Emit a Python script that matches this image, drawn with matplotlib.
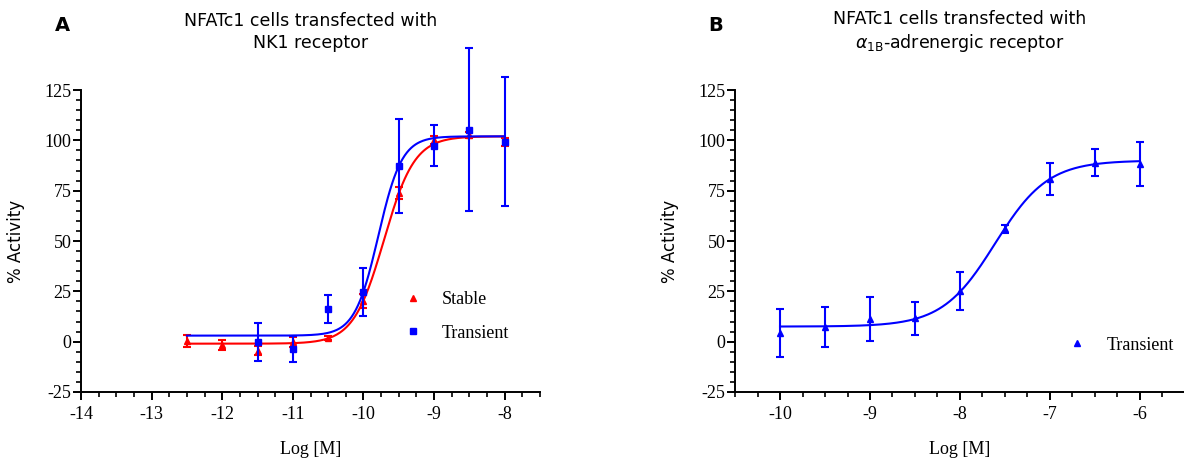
import matplotlib
matplotlib.use("Agg")
import matplotlib.pyplot as plt
import numpy as np
from matplotlib.lines import Line2D
from matplotlib.ticker import MultipleLocator

# panel A - NK1 receptor
log_a = [-12.5, -12.0, -11.5, -11.0, -10.5, -10.0, -9.5, -9.0, -8.5, -8.0]
stable_mean = [0.5, -1.5, -4.4, 0.0, 1.6, 20.0, 74.0, 100.0, 102.5, 99.0]
stable_err = [3.0, 2.5, 2.0, 2.5, 1.0, 3.5, 3.0, 2.0, 1.5, 2.0]
log_a_tr = [-11.5, -11.0, -10.5, -10.0, -9.5, -9.0, -8.5, -8.0]
trans_a_mean = [-0.3, -3.6, 16.4, 24.8, 87.2, 97.4, 105.3, 99.3]
trans_a_err = [9.5, 6.5, 7.0, 12.0, 23.3, 10.3, 40.5, 32.0]
# fitted 4PL parameters (bottom, top, logEC50, hill)
fit_stable = (-1.0, 102.0, -9.71, 2.0)
fit_trans_a = (3.0, 102.0, -9.79, 2.6)

# panel B - alpha1B adrenergic receptor
log_b = [-10.0, -9.5, -9.0, -8.5, -8.0, -7.5, -7.0, -6.5, -6.0]
trans_b_mean = [4.3, 7.3, 11.2, 11.6, 25.0, 56.0, 80.9, 89.0, 88.3]
trans_b_err = [12.1, 10.0, 11.0, 8.2, 9.4, 2.0, 8.0, 6.5, 11.0]
fit_trans_b = (7.5, 90.0, -7.61, 1.48)

yticks = [-25, 0, 25, 50, 75, 100, 125]


def four_pl(x, p):
    bottom, top, ec50, hill = p
    return bottom + (top - bottom) / (1 + 10 ** ((ec50 - x) * hill))


def style_axes(ax, xlim, xticks):
    ax.set_xlim(*xlim)
    ax.set_ylim(-25, 125)
    ax.set_xticks(xticks)
    ax.set_xticklabels([str(t) for t in xticks], family="Liberation Serif")
    ax.xaxis.set_minor_locator(MultipleLocator(0.25))
    ax.set_yticks(yticks)
    ax.set_yticklabels([str(t) for t in yticks], family="Liberation Serif")
    ax.yaxis.set_minor_locator(MultipleLocator(5))
    for s in ["top", "right"]:
        ax.spines[s].set_visible(False)
    for s in ["left", "bottom"]:
        ax.spines[s].set_linewidth(1.4)
    ax.tick_params(which="major", direction="out", length=6, width=1.4, labelsize=13)
    ax.tick_params(which="minor", direction="out", length=3.5, width=1.2)
    ax.tick_params(axis="x", pad=4)
    ax.tick_params(axis="y", pad=1)
    ax.set_xlabel("Log [M]", family="Liberation Serif", fontsize=13, labelpad=13)
    ax.set_ylabel("% Activity", family="DejaVu Sans", fontsize=12, labelpad=14)


fig = plt.figure(figsize=(11.84, 4.61), dpi=100)
ax1 = fig.add_axes([0.0684, 0.1497, 0.3877, 0.655])
ax2 = fig.add_axes([0.6208, 0.1497, 0.380, 0.655])

red = "#ff0000"
blue = "#0000ff"
eb = dict(ms=5, elinewidth=1.5, capsize=3, capthick=1.5, clip_on=False)

# panel A
xs = np.linspace(log_a[0], log_a[-1], 300)
ax1.plot(xs, four_pl(xs, fit_stable), color=red, lw=1.5, zorder=2)
ax1.errorbar(log_a, stable_mean, yerr=stable_err, fmt="^", color=red, zorder=3, **eb)
ax1.plot(xs, four_pl(xs, fit_trans_a), color=blue, lw=1.5, zorder=4)
ax1.errorbar(log_a_tr, trans_a_mean, yerr=trans_a_err, fmt="s", color=blue, zorder=5, **eb)
style_axes(ax1, (-14, -7.5), [-14, -13, -12, -11, -10, -9, -8])
h1 = [Line2D([], [], ls="none", marker="^", color=red, ms=5),
      Line2D([], [], ls="none", marker="s", color=blue, ms=5)]
ax1.legend(h1, ["Stable", "Transient"], loc="center left", bbox_to_anchor=(0.668, 0.25),
           frameon=False, handlelength=1, handletextpad=1.1, labelspacing=0.9,
           prop={"family": "Liberation Serif", "size": 13})
ax1.set_title("NFATc1 cells transfected with\nNK1 receptor", fontsize=12.5,
              family="DejaVu Sans", pad=30, linespacing=1.3)
fig.text(0.046, 0.944, "A", fontsize=14, fontweight="bold", family="DejaVu Sans", va="center")

# panel B
xs = np.linspace(log_b[0], log_b[-1], 300)
ax2.plot(xs, four_pl(xs, fit_trans_b), color=blue, lw=1.5, zorder=2)
ax2.errorbar(log_b, trans_b_mean, yerr=trans_b_err, fmt="^", color=blue, zorder=3, **eb)
style_axes(ax2, (-10.5, -5.5), [-10, -9, -8, -7, -6])
h2 = [Line2D([], [], ls="none", marker="^", color=blue, ms=5)]
ax2.legend(h2, ["Transient"], loc="center left", bbox_to_anchor=(0.705, 0.155),
           frameon=False, handlelength=1, handletextpad=1.1,
           prop={"family": "Liberation Serif", "size": 13})
ax2.set_title("NFATc1 cells transfected with\n" + r"$\alpha_{\mathrm{1B}}$-adrenergic receptor",
              fontsize=12.5, family="DejaVu Sans", pad=30, linespacing=1.3)
fig.text(0.598, 0.944, "B", fontsize=14, fontweight="bold", family="DejaVu Sans", va="center")

fig.savefig("out.png", dpi=100)
